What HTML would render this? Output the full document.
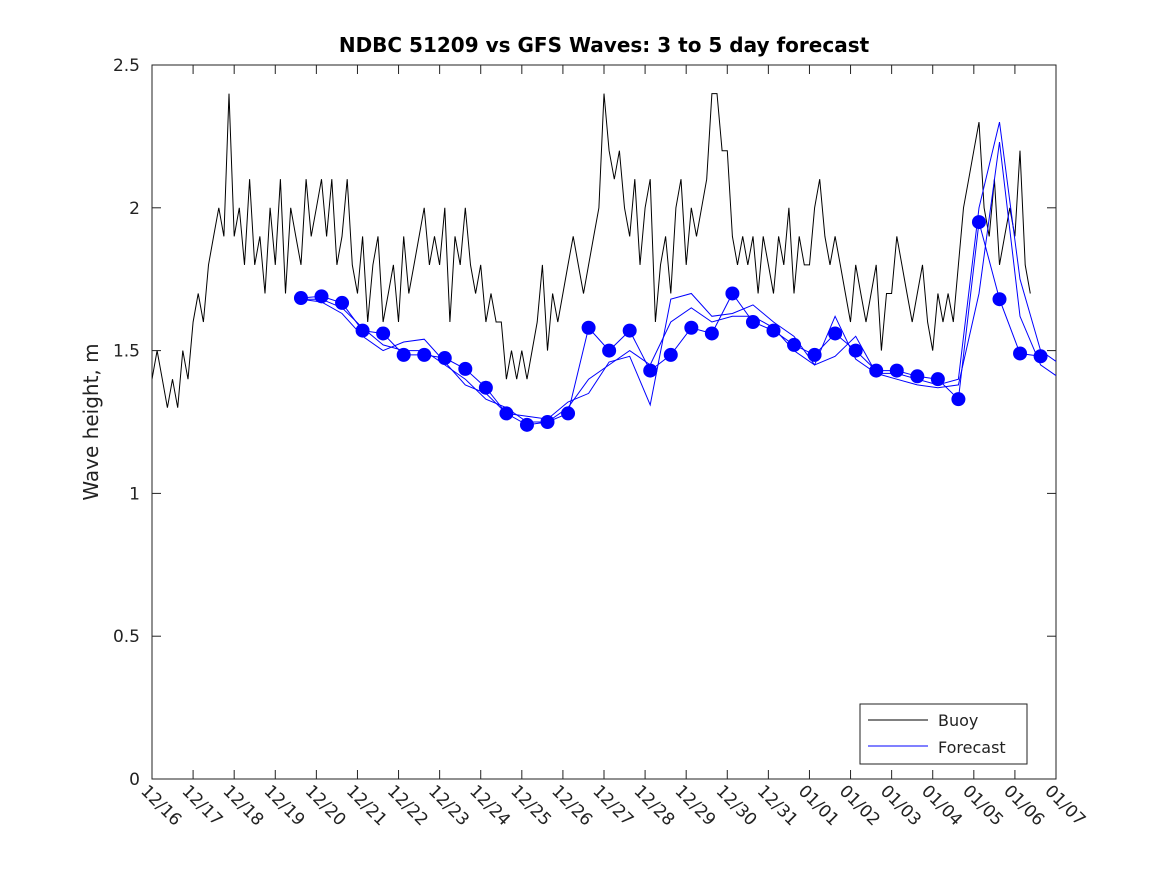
<!DOCTYPE html>
<html><head><meta charset="utf-8"><style>
body{margin:0;background:#fff;}
svg{display:block;font-family:"DejaVu Sans","Liberation Sans",sans-serif;}
</style></head><body>
<svg id="chart" width="1167" height="875">
<defs><clipPath id="plotclip"><rect x="152" y="65" width="904" height="714"/></clipPath></defs>
<rect x="0" y="0" width="1167" height="875" fill="#fff"/>
<text x="604" y="52" text-anchor="middle" font-size="20" font-weight="bold">NDBC 51209 vs GFS Waves: 3 to 5 day forecast</text>
<text transform="translate(98,422) rotate(-90)" text-anchor="middle" font-size="20" fill="#222">Wave height, m</text>
<g id="axes"></g>
<g id="series" clip-path="url(#plotclip)"></g>
<g>
<rect x="860" y="704" width="167" height="60" fill="#fff" stroke="#222" stroke-width="1"/>
<line x1="868" y1="720" x2="928" y2="720" stroke="#000" stroke-width="1"/>
<text x="938" y="726" font-size="16" fill="#222">Buoy</text>
<line x1="868" y1="746" x2="928" y2="746" stroke="#0000ff" stroke-width="1"/>
<text x="938" y="753" font-size="16" fill="#222">Forecast</text>
</g>
</svg>
<script>
const xTickLabels=["12/16","12/17","12/18","12/19","12/20","12/21","12/22","12/23","12/24","12/25","12/26","12/27","12/28","12/29","12/30","12/31","01/01","01/02","01/03","01/04","01/05","01/06","01/07"];
const yTicks=[0,0.5,1,1.5,2,2.5];
const yTickLabels=["0","0.5","1","1.5","2","2.5"];
const buoyStepDays=0.125;
const buoy=[1.4,1.5,1.4,1.3,1.4,1.3,1.5,1.4,
1.6,1.7,1.6,1.8,1.9,2.0,1.9,2.4,
1.9,2.0,1.8,2.1,1.8,1.9,1.7,2.0,
1.8,2.1,1.7,2.0,1.9,1.8,2.1,1.9,
2.0,2.1,1.9,2.1,1.8,1.9,2.1,1.8,
1.7,1.9,1.6,1.8,1.9,1.6,1.7,1.8,
1.6,1.9,1.7,1.8,1.9,2.0,1.8,1.9,
1.8,2.0,1.6,1.9,1.8,2.0,1.8,1.7,
1.8,1.6,1.7,1.6,1.6,1.4,1.5,1.4,
1.5,1.4,1.5,1.6,1.8,1.5,1.7,1.6,
1.7,1.8,1.9,1.8,1.7,1.8,1.9,2.0,
2.4,2.2,2.1,2.2,2.0,1.9,2.1,1.8,
2.0,2.1,1.6,1.8,1.9,1.7,2.0,2.1,
1.8,2.0,1.9,2.0,2.1,2.4,2.4,2.2,
2.2,1.9,1.8,1.9,1.8,1.9,1.7,1.9,
1.8,1.7,1.9,1.8,2.0,1.7,1.9,1.8,
1.8,2.0,2.1,1.9,1.8,1.9,1.8,1.7,
1.6,1.8,1.7,1.6,1.7,1.8,1.5,1.7,
1.7,1.9,1.8,1.7,1.6,1.7,1.8,1.6,
1.5,1.7,1.6,1.7,1.6,1.8,2.0,2.1,
2.2,2.3,2.0,1.9,2.1,1.8,1.9,2.0,
1.9,2.2,1.8,1.7];
const fcStartDay=3.625;
const fcStepDays=0.5;
const forecastDots=[1.684,1.69,1.667,1.57,1.56,1.485,1.485,1.474,1.436,1.37,1.28,1.24,1.25,1.28,1.58,1.50,1.57,1.43,1.485,1.58,1.56,1.70,1.60,1.57,1.52,1.485,1.56,1.50,1.43,1.43,1.41,1.40,1.33,1.95,1.68,1.49,1.48];
const forecastRunA=[1.68,1.68,1.65,1.58,1.52,1.50,1.50,1.45,1.40,1.33,1.30,1.25,1.25,1.30,1.40,1.45,1.50,1.45,1.60,1.65,1.60,1.62,1.62,1.58,1.50,1.45,1.48,1.55,1.42,1.40,1.38,1.37,1.38,1.70,2.23,1.62,1.45,1.40];
const forecastRunB=[1.68,1.67,1.63,1.55,1.50,1.53,1.54,1.46,1.38,1.35,1.28,1.27,1.26,1.32,1.35,1.46,1.48,1.31,1.68,1.70,1.62,1.63,1.66,1.60,1.55,1.45,1.62,1.47,1.42,1.42,1.40,1.38,1.40,2.00,2.30,1.75,1.50,1.45];
const NS="http://www.w3.org/2000/svg";
const X0=152,X1=1056,Y0=779,Y1=65;
const xDays=xTickLabels.length-1;
function xs(d){return X0+(X1-X0)*d/xDays;}
function ys(v){return Y0-(Y0-Y1)*v/2.5;}
function mk(t,a,p){const e=document.createElementNS(NS,t);for(const k in a)e.setAttribute(k,a[k]);p.appendChild(e);return e;}
const ax=document.getElementById('axes'),se=document.getElementById('series');
const box=mk('rect',{x:X0,y:Y1,width:X1-X0,height:Y0-Y1,fill:'none',stroke:'#222','stroke-width':1},ax);


xTickLabels.forEach((l,i)=>{const x=xs(i);
mk('line',{x1:x,y1:Y0,x2:x,y2:Y0-9,stroke:'#222'},ax);
mk('line',{x1:x,y1:Y1,x2:x,y2:Y1+9,stroke:'#222'},ax);
const t=mk('text',{transform:`translate(${x-12},${792}) rotate(45)`,'font-size':17,fill:'#222'},ax);
t.textContent=l;

});
yTicks.forEach((v,i)=>{const y=ys(v);
mk('line',{x1:X0,y1:y,x2:X0+9,y2:y,stroke:'#222'},ax);
mk('line',{x1:X1,y1:y,x2:X1-9,y2:y,stroke:'#222'},ax);
const t=mk('text',{x:X0-12,y:y+6,'text-anchor':'end','font-size':17,fill:'#222'},ax);
t.textContent=yTickLabels[i];

});
function pts(arr,s,st){return arr.map((v,i)=>xs(s+i*st).toFixed(1)+','+ys(v).toFixed(1)).join(' ');}
const bl=mk('polyline',{points:pts(buoy,0,buoyStepDays),fill:'none',stroke:'#000','stroke-width':1},se);


[forecastRunA,forecastRunB,forecastDots].forEach(arr=>{
const l=mk('polyline',{points:pts(arr,fcStartDay,fcStepDays),fill:'none',stroke:'#0000ff','stroke-width':1},se);

});
forecastDots.forEach((v,i)=>{
const c=mk('circle',{cx:xs(fcStartDay+i*fcStepDays),cy:ys(v),r:7,fill:'#0000ff'},se);

});
</script>
</body></html>
